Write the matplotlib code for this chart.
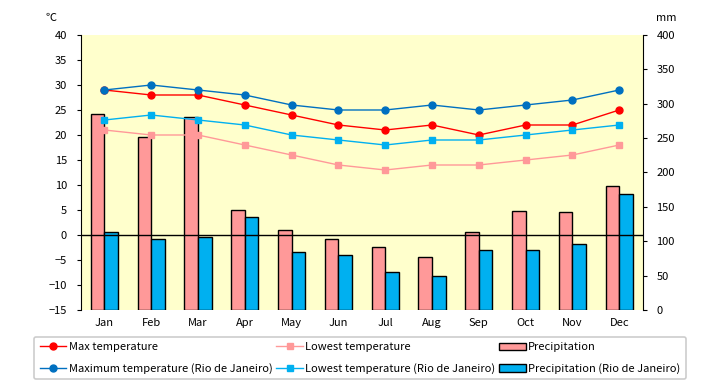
import numpy as np
import matplotlib
matplotlib.use("Agg")
import matplotlib.pyplot as plt

plt.rcParams['font.family'] = ['Noto Sans CJK JP', 'DejaVu Sans']

months = ['Jan', 'Feb', 'Mar', 'Apr', 'May', 'Jun', 'Jul', 'Aug', 'Sep', 'Oct', 'Nov', 'Dec']

# temperatures (deg C)
max_temp = [29, 28, 28, 26, 24, 22, 21, 22, 20, 22, 22, 25]
low_temp = [21, 20, 20, 18, 16, 14, 13, 14, 14, 15, 16, 18]
rio_max_temp = [29, 30, 29, 28, 26, 25, 25, 26, 25, 26, 27, 29]
rio_low_temp = [23, 24, 23, 22, 20, 19, 18, 19, 19, 20, 21, 22]

# precipitation (mm)
precip = [285, 251, 280, 146, 117, 103, 91, 77, 114, 144, 142, 181]
rio_precip = [114, 104, 106, 136, 85, 80, 56, 50, 87, 88, 96, 168]

x = np.arange(len(months))
w = 0.29

fig = plt.figure(figsize=(7.2, 3.85), dpi=100)
ax_mm = fig.add_axes([0.1125, 0.1948, 0.7801, 0.7143])
ax_mm.set_facecolor('#FFFFCC')

# bars on the mm axis (right side)
b1 = ax_mm.bar(x - w / 2, precip, width=w, color='#FF9999', edgecolor='black', linewidth=1,
               label='Precipitation')
b2 = ax_mm.bar(x + w / 2, rio_precip, width=w, color='#00B0F0', edgecolor='black', linewidth=1,
               label='Precipitation (Rio de Janeiro)')
ax_mm.set_ylim(0, 400)
ax_mm.set_yticks(range(0, 401, 50))
ax_mm.set_xlim(-0.5, 11.5)
ax_mm.set_xticks(x)
ax_mm.set_xticklabels(months)

# temperatures on the left axis
ax_t = ax_mm.twinx()
ax_t.set_ylim(-15, 40)
ax_t.set_yticks(range(-15, 41, 5))

# twinx flips ticks, put them back
ax_mm.yaxis.tick_right()
ax_t.yaxis.tick_left()

ax_mm.tick_params(axis='x', length=0, pad=6, labelsize=8)
ax_mm.tick_params(axis='y', direction='out', length=3, pad=7, labelsize=8)
ax_t.tick_params(axis='y', direction='out', length=3, pad=7, labelsize=8)
for s in ['top', 'bottom', 'left']:
    ax_mm.spines[s].set_visible(False)
for s in ['top', 'bottom', 'right']:
    ax_t.spines[s].set_visible(False)
ax_t.spines['left'].set_visible(True)
ax_mm.spines['right'].set_visible(True)

ax_t.axhline(0, color='black', linewidth=1)

l1, = ax_t.plot(x, max_temp, color='#FF0000', marker='o', markersize=5, linewidth=1,
                label='Max temperature')
l2, = ax_t.plot(x, rio_max_temp, color='#0070C0', marker='o', markersize=5, linewidth=1,
                label='Maximum temperature (Rio de Janeiro)')
l3, = ax_t.plot(x, low_temp, color='#FF9999', marker='s', markersize=5, linewidth=1,
                label='Lowest temperature')
l4, = ax_t.plot(x, rio_low_temp, color='#00B0F0', marker='s', markersize=5, linewidth=1,
                label='Lowest temperature (Rio de Janeiro)')

fig.text(0.071, 0.953, '℃', fontsize=8, ha='center', va='center')
fig.text(0.926, 0.953, 'mm', fontsize=8, ha='center', va='center')

handles = [l1, l2, l3, l4, b1, b2]
leg = fig.legend(handles, [h.get_label() for h in handles],
                 loc='center', bbox_to_anchor=(0.5, 0.07), ncol=3, fontsize=8,
                 frameon=True, fancybox=True, handlelength=2.4, handletextpad=0.2,
                 columnspacing=0.35, labelspacing=0.95, borderpad=0.5)
leg.get_frame().set_edgecolor('#C0C0C0')
leg.get_frame().set_linewidth(1.2)

fig.savefig('out.png', dpi=100)
